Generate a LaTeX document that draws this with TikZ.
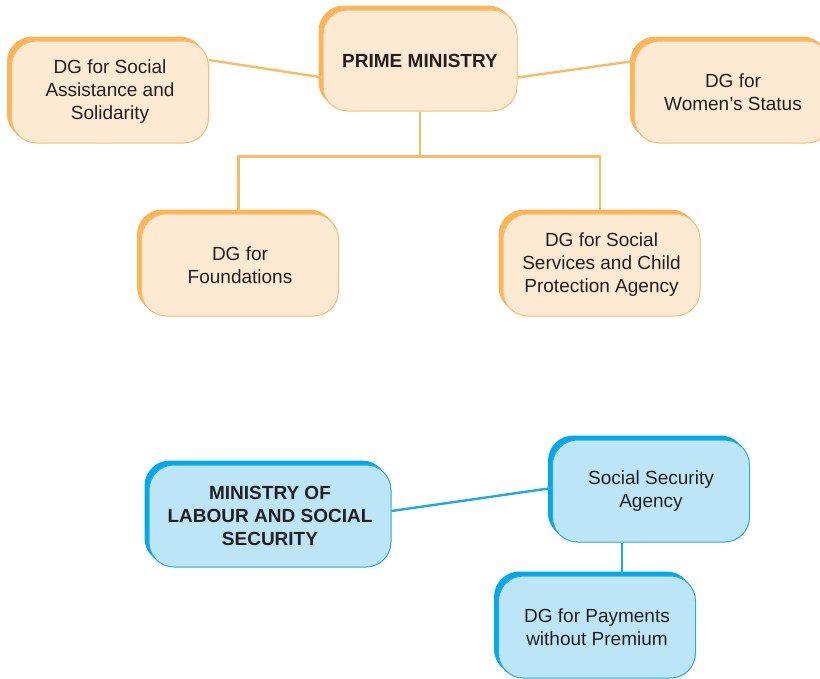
\documentclass[tikz,border=0pt]{standalone}
\usepackage{fontspec}
\setmainfont{Liberation Sans}
\usetikzlibrary{positioning, shadows}

\definecolor{peach}{HTML}{FEEAD2}
\definecolor{orangeline}{HTML}{FBBC6C}
\definecolor{orangewire}{HTML}{FDBA62}
\definecolor{orangedark}{HTML}{FBB457}
\definecolor{skyfill}{HTML}{BDE5F8}
\definecolor{skyline}{HTML}{27AAE1}
\definecolor{skywire}{HTML}{1CA9E6}
\definecolor{skydark}{HTML}{00A9EC}
\definecolor{ink}{HTML}{231F20}

\tikzset{
  dgbox/.style={rectangle, rounded corners=25pt, minimum width=197pt,
    minimum height=102pt, align=center, text=ink, line width=1pt,
    font=\fontsize{19}{23}\selectfont},
  orangebox/.style={dgbox, fill=peach, draw=orangeline,
    copy shadow={shadow xshift=-4pt, shadow yshift=4pt, fill=orangedark, draw=orangedark}},
  bluebox/.style={dgbox, fill=skyfill, draw=skyline,
    copy shadow={shadow xshift=-4pt, shadow yshift=4pt, fill=skydark, draw=skydark}},
  orangelink/.style={draw=orangewire, line width=2.4pt},
  bluelink/.style={draw=skywire, line width=2.4pt}
}

\begin{document}
\begin{tikzpicture}[x=1pt, y=-1pt]
\useasboundingbox (0,0) rectangle (820,678);
\clip (0,0) rectangle (820,678);

% upper chart
\node[orangebox, minimum width=194pt, minimum height=101pt] (prime) at (420,60.5)
    {\bfseries PRIME MINISTRY};
\node[orangebox] (assist) at (110,92) {DG for Social\\Assistance and\\Solidarity};
\node[orangebox] (women) at (733,92) {DG for\\Women's Status};
\node[orangebox] (found) at (240,265) {DG for\\Foundations};
\node[orangebox] (social) at (601.5,265)
    {DG for Social\\Services and Child\\Protection Agency};

\draw[orangelink] ([yshift=32pt]assist.east) -- ([yshift=-17pt]prime.west);
\draw[orangelink] ([yshift=-17pt]prime.east) -- ([yshift=31pt]women.west);
\draw[orangelink] (prime.south) -- ++(0,45) -| ([xshift=-1.5pt]found.north);
\draw[orangelink] (prime.south) -- ++(0,45) -| ([xshift=-1.5pt]social.north);

% lower chart
\node[bluebox, minimum width=242pt] (labour) at (270,516)
    {\bfseries MINISTRY OF\\\bfseries LABOUR AND SOCIAL\\\bfseries SECURITY};
\node[bluebox] (ssa) at (651,491) {Social Security\\Agency};
\node[bluebox] (pay) at (597,627) {DG for Payments\\without Premium};

\draw[bluelink] ([yshift=5pt]labour.east) -- ([yshift=3pt]ssa.west);
\draw[bluelink] ([xshift=-29pt]ssa.south) -- ([xshift=25pt]pay.north);
\end{tikzpicture}
\end{document}
